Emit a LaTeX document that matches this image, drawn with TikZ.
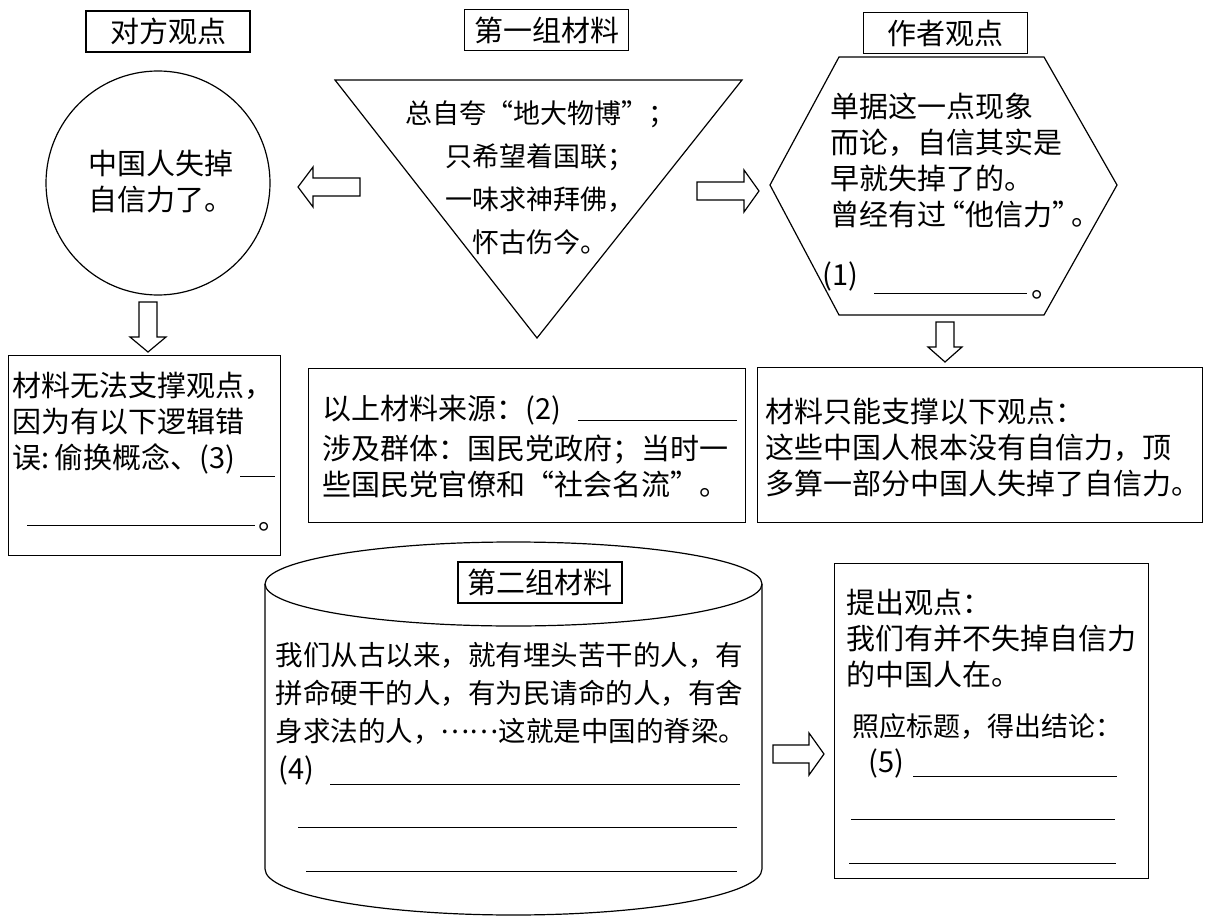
\documentclass[tikz,border=0pt]{standalone}
\usepackage{fontspec}
\setmainfont{Noto Sans CJK SC}
\tikzset{
  titlebox/.style={draw, minimum width=164pt, minimum height=41pt, inner sep=0pt, font=\fontsize{29}{29}\selectfont},
  panel/.style={draw, anchor=north west, inner sep=0pt},
  txt/.style={anchor=north west, align=left, inner sep=0pt, font=\fontsize{29}{36}\selectfont},
  blank/.style={line width=1pt},
  pics/blockarrow/.style 2 args={code={
    \draw (0,-9) -- (#1-15,-9) -- (#1-15,-#2) -- (#1,0) -- (#1-15,#2) -- (#1-15,9) -- (0,9) -- cycle;
  }}
}

\begin{document}
\begin{tikzpicture}[x=1pt, y=-1pt, line width=1.2pt]
\useasboundingbox (0,0) rectangle (1228,920);

% titles
\node[titlebox] (opptitle) at (168,31.5) {对方观点};
\node[titlebox] (onetitle) at (546.5,30) {第一组材料};
\node[titlebox] (authtitle) at (945.5,33) {作者观点};

% top row
\node[circle, draw, minimum size=224pt, inner sep=0pt] (oppcircle) at (158,183) {};
\node[txt] (oppclaim) at (88,150) {中国人失掉\\自信力了。};

\draw (335,80) -- (742,80) -- (537,338) -- cycle;
\node[txt, anchor=north, align=center, font=\fontsize{27}{43}\selectfont] (onetext) at (540,100)
  {总自夸“地大物博”；\\只希望着国联；\\一味求神拜佛，\\怀古伤今。};

\draw (839,57) -- (1044,57) -- (1117,185) -- (1044,315) -- (839,315) -- (770,185) -- cycle;
\node[txt] (authtext) at (830,92)
  {单据这一点现象\\而论，自信其实是\\早就失掉了的。\\曾经有过\kern-.35em“他信力”\kern-.35em。};
\node[txt, anchor=base west] (blank1) at (822,285) {(1)};
\draw[blank] (874,293) -- (1027,293);
\node[txt, anchor=base west] (end1) at (1031,297) {。};

\pic[rotate=180] (arrleft) at (360,187) {blockarrow={62}{20}};
\pic (arrright) at (697,191) {blockarrow={62}{21}};
\pic[rotate=-90] (arrdown1) at (148,302) {blockarrow={50}{18}};
\pic[rotate=-90] (arrdown2) at (945,322) {blockarrow={40}{17}};

% middle row
\node[panel, minimum width=272pt, minimum height=200pt] (flawbox) at (8,355) {};
\node[txt] (flawtext) at (12,372) {材料无法支撑观点，\\因为有以下逻辑错\\误:\,偷换概念、(3)};
\draw[blank] (240,476) -- (275,476);
\draw[blank] (27,525) -- (255,525);
\node[txt, anchor=base west] (end3) at (258,529) {。};

\node[panel, minimum width=437pt, minimum height=154pt] (srcbox) at (308,368) {};
\node[txt] (srctext) at (322,395) {以上材料来源：(2)};
\draw[blank] (578,420) -- (737,420);
\node[txt] (grouptext) at (322,434) {涉及群体：国民党政府；当时一\\些国民党官僚和“社会名流”。};

\node[panel, minimum width=445pt, minimum height=155pt] (onlybox) at (757,367) {};
\node[txt] (onlytext) at (765,397) {材料只能支撑以下观点：\\这些中国人根本没有自信力，顶\\多算一部分中国人失掉了自信力。};

% bottom row
\draw (265,584) -- (265,869) arc[start angle=180, end angle=0, x radius=248.5, y radius=46] -- (762,584);
\draw (513.5,584) ellipse [x radius=248.5, y radius=42];
\node[titlebox] (twotitle) at (540,582.5) {第二组材料};
\node[txt, font=\fontsize{27.5}{38}\selectfont] (twotext) at (275,642)
  {我们从古以来，就有埋头苦干的人，有\\拼命硬干的人，有为民请命的人，有舍\\身求法的人，\raisebox{.32em}{……}这就是中国的脊梁。};
\node[txt, anchor=base west] (blank4) at (278,779) {(4)};
\draw[blank] (330,784) -- (740,784);
\draw[blank] (298,827) -- (737,827);
\draw[blank] (306,871) -- (737,871);

\pic (arrbottom) at (773,754) {blockarrow={51}{21}};

\node[panel, minimum width=314pt, minimum height=315pt] (endbox) at (834,563) {};
\node[txt] (endtext) at (846,589) {提出观点：\\我们有并不失掉自信力\\的中国人在。};
\node[txt, font=\fontsize{27}{36}\selectfont] (endnote) at (852,713) {照应标题，得出结论：};
\node[txt, anchor=base west] (blank5) at (868,772) {(5)};
\draw[blank] (913,776) -- (1117,776);
\draw[blank] (851,819) -- (1115,819);
\draw[blank] (849,863) -- (1116,863);
\end{tikzpicture}
\end{document}
